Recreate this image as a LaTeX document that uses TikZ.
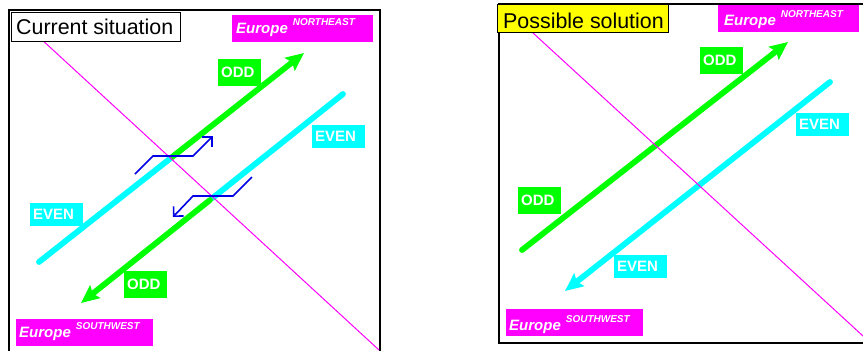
\documentclass[tikz,border=0pt]{standalone}
\usepackage{fontspec}
\setmainfont{Liberation Sans}
\usetikzlibrary{arrows.meta}
\definecolor{mygreen}{RGB}{0,255,0}
\definecolor{mycyan}{RGB}{0,255,255}
\definecolor{mymag}{RGB}{255,0,255}
\definecolor{myyellow}{RGB}{255,255,0}
\definecolor{myblue}{RGB}{0,0,230}
\begin{document}
\begin{tikzpicture}[x=1pt,y=-1pt,
  panel/.style={draw=black, line width=1.4pt},
  road/.style={line width=5.8pt},
  roadarr/.style={road, -{Stealth[length=18pt,width=16pt,inset=3pt]}},
  divide/.style={draw=mymag, line width=1pt},
  turn/.style={draw=myblue, line width=1.6pt, -{Straight Barb[length=7pt,width=14pt]}},
  lab/.style={anchor=north west, inner xsep=3pt, inner ysep=0pt, text=white,
    font=\fontsize{15}{18}\selectfont\bfseries, align=left},
  oddlab/.style={lab, fill=mygreen, minimum height=27pt, text width=37pt},
  evenlab/.style={lab, fill=mycyan, minimum height=23pt, text width=47pt},
  eubox/.style={fill=mymag, anchor=north west, minimum width=141pt, minimum height=27pt, inner sep=0pt},
  swbox/.style={eubox, minimum width=137pt},
  eutext/.style={anchor=base west, inner sep=0pt, text=white,
    font=\fontsize{15}{18}\selectfont\bfseries\itshape},
  titlebox/.style={draw=black, line width=1.2pt, anchor=north west, inner sep=0pt},
  titletext/.style={anchor=base west, inner sep=0pt, font=\fontsize{21.4}{25}\selectfont}
]
\useasboundingbox (0,0) rectangle (863,351);
\clip (0,0) rectangle (863,351);

% ---------- left panel ----------
\draw[panel] (9,10) rectangle (380,362);
\coordinate (a1) at (39,262);
\coordinate (ax) at (170.5,158.3);
\coordinate (a2) at (304,53);
\coordinate (b1) at (343,94);
\coordinate (bx) at (212.5,198);
\coordinate (bs) at (210,200);
\coordinate (b2) at (81,303);
\draw[road, mycyan, line cap=round] (a1) -- (ax);
\draw[roadarr, mygreen] (ax) -- (a2);
\draw[road, mycyan, line cap=round] (b1) -- (bx);
\draw[roadarr, mygreen, line cap=round] (bs) -- (b2);
\coordinate (m1) at (15,15);
\coordinate (m2) at (379,350);
\draw[divide] (m1) -- (m2);
\coordinate (t1) at (135,174);
\coordinate (t2) at (153,156);
\coordinate (t3) at (193,156);
\coordinate (t4) at (213,136);
\draw[turn] (t1) -- (t2) -- (t3) -- (t4);
\coordinate (u1) at (252,177);
\coordinate (u2) at (233,196);
\coordinate (u3) at (193,196);
\coordinate (u4) at (173,217);
\draw[turn] (u1) -- (u2) -- (u3) -- (u4);

\node[oddlab] (oddA) at (218,59) {ODD};
\node[evenlab] (evenA) at (312,125) {EVEN};
\node[evenlab] (evenB) at (30,203) {EVEN};
\node[oddlab] (oddB) at (124,271) {ODD};

\node[eubox] (neboxL) at (232,15) {};
\node[eutext] (netextL) at (236,33) {Europe\hspace{5pt}\raisebox{8pt}{\fontsize{10}{12}\selectfont NORTHEAST}};
\node[swbox] (swboxL) at (16,319) {};
\node[eutext] (swtextL) at (19,337) {Europe\hspace{5pt}\raisebox{8pt}{\fontsize{10}{12}\selectfont SOUTHWEST}};

\node[titlebox, fill=white, minimum width=169pt, minimum height=29pt] (titleL) at (11,12) {};
\node[titletext] (titleLtext) at (16,34.5) {Current situation};

% ---------- right panel ----------
\draw[panel] (499,4) rectangle (880,343);
\coordinate (c1) at (522,250);
\coordinate (c2) at (788,42);
\coordinate (d1) at (830,82);
\coordinate (d2) at (565,291);
\draw[roadarr, mygreen, line cap=round] (c1) -- (c2);
\draw[roadarr, mycyan, line cap=round] (d1) -- (d2);
\coordinate (n1) at (508,10);
\coordinate (n2) at (880,351.6);
\draw[divide] (n1) -- (n2);

\node[oddlab] (oddC) at (700,47) {ODD};
\node[oddlab] (oddD) at (518,187) {ODD};
\node[evenlab] (evenC) at (796,113) {EVEN};
\node[evenlab] (evenD) at (614,255) {EVEN};

\node[eubox] (neboxR) at (718,5) {};
\node[eutext] (netextR) at (724,25) {Europe\hspace{5pt}\raisebox{8pt}{\fontsize{10}{12}\selectfont NORTHEAST}};
\node[swbox] (swboxR) at (506,309) {};
\node[eutext] (swtextR) at (509,330) {Europe\hspace{5pt}\raisebox{8pt}{\fontsize{10}{12}\selectfont SOUTHWEST}};

\node[titlebox, fill=myyellow, minimum width=171pt, minimum height=28pt] (titleR) at (497,4) {};
\node[titletext] (titleRtext) at (503,28.5) {Possible solution};
\end{tikzpicture}
\end{document}
